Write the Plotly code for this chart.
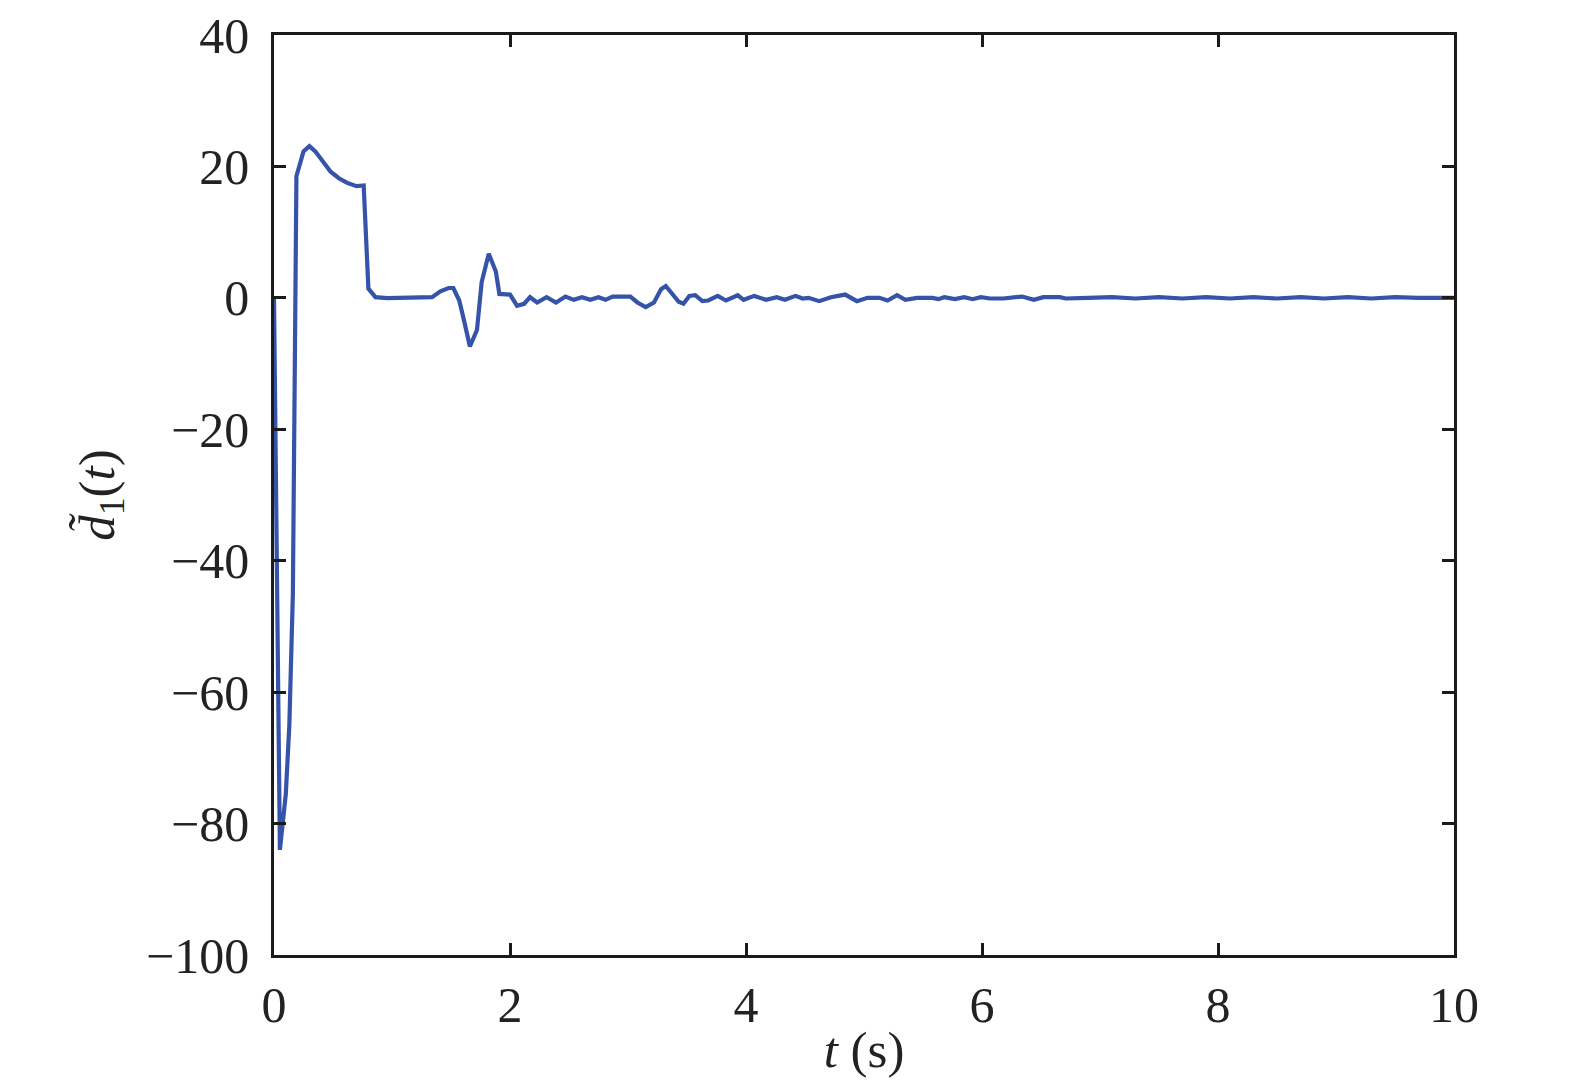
import plotly.graph_objects as go

# time samples (s) and estimation error values
t = [0.0, 0.05, 0.10, 0.13, 0.16, 0.19, 0.25, 0.30, 0.35, 0.42, 0.48, 0.55, 0.62, 0.70, 0.76,
     0.80, 0.86, 0.96, 1.16, 1.34, 1.41, 1.48, 1.52, 1.57, 1.61, 1.66, 1.72, 1.76, 1.82,
     1.88, 1.91, 2.00, 2.06, 2.12, 2.17, 2.23, 2.31, 2.39, 2.47, 2.54, 2.61, 2.68, 2.75,
     2.81, 2.87, 3.02, 3.08, 3.15, 3.22, 3.28, 3.32, 3.37, 3.43, 3.47, 3.52, 3.57, 3.63,
     3.68, 3.76, 3.83, 3.93, 3.98, 4.07, 4.17, 4.26, 4.33, 4.42, 4.48, 4.53, 4.62, 4.72,
     4.84, 4.94, 5.03, 5.13, 5.20, 5.28, 5.35, 5.45, 5.58, 5.63, 5.68, 5.77, 5.85, 5.92,
     5.99, 6.07, 6.18, 6.34, 6.44, 6.52, 6.66, 6.71, 6.90, 7.10, 7.30, 7.50, 7.70, 7.90,
     8.10, 8.30, 8.50, 8.70, 8.90, 9.10, 9.30, 9.50, 9.70, 10.0]
d1 = [0.0, -84.0, -75.5, -65.0, -45.0, 18.5, 22.3, 23.1, 22.3, 20.5, 19.2, 18.2, 17.5, 17.0, 17.1,
      1.4, 0.1, -0.05, 0.1, 0.1, 1.0, 1.5, 1.5, -0.4, -3.4, -7.4, -4.9, 2.4, 6.7,
      4.0, 0.6, 0.5, -1.2, -0.9, 0.1, -0.7, 0.1, -0.7, 0.2, -0.3, 0.1, -0.3, 0.1,
      -0.3, 0.2, 0.2, -0.7, -1.4, -0.7, 1.3, 1.8, 0.8, -0.6, -0.9, 0.3, 0.4, -0.5,
      -0.4, 0.3, -0.4, 0.4, -0.3, 0.3, -0.3, 0.1, -0.3, 0.3, -0.1, 0.0, -0.5, 0.1,
      0.5, -0.5, 0.0, 0.0, -0.4, 0.4, -0.3, 0.0, 0.0, -0.2, 0.1, -0.2, 0.1, -0.2,
      0.1, -0.1, -0.1, 0.2, -0.3, 0.1, 0.1, -0.1, 0.0, 0.1, -0.1, 0.1, -0.1, 0.1,
      -0.1, 0.1, -0.1, 0.1, -0.1, 0.1, -0.1, 0.1, 0.0, 0.0]

x_ticks = [0, 2, 4, 6, 8, 10]
y_ticks = [-100, -80, -60, -40, -20, 0, 20, 40]

FONT = "Liberation Serif"

fig = go.Figure()
fig.add_trace(go.Scatter(x=t, y=d1, mode="lines",
                         line=dict(color="#3553a8", width=4.2), showlegend=False))

axis_common = dict(showline=True, linecolor="#1a1a1a", linewidth=2.5, mirror="ticks",
                   ticks="inside", ticklen=12, tickwidth=2.5, tickcolor="#1a1a1a",
                   showgrid=False, zeroline=False, automargin=False,
                   ticklabeloverflow="allow",
                   tickfont=dict(family=FONT, size=50, color="#222"))

fig.update_xaxes(range=[0, 10], tickvals=x_ticks, **axis_common, ticklabelstandoff=4,
                 title=dict(text="<i>t</i> (s)", font=dict(family=FONT, size=51, color="#222"),
                            standoff=0))
fig.update_yaxes(range=[-100, 40], tickvals=y_ticks, **axis_common, ticklabelstandoff=12,
                 title=dict(text="<i>d̃</i><sub>1</sub>(<i>t</i>)",
                            font=dict(family=FONT, size=51, color="#222"), standoff=16))

fig.update_layout(width=1575, height=1087,
                  margin=dict(l=266, r=129, t=27, b=140, autoexpand=False),
                  font=dict(family=FONT),
                  plot_bgcolor="white", paper_bgcolor="white")

fig.write_html("out.html")
